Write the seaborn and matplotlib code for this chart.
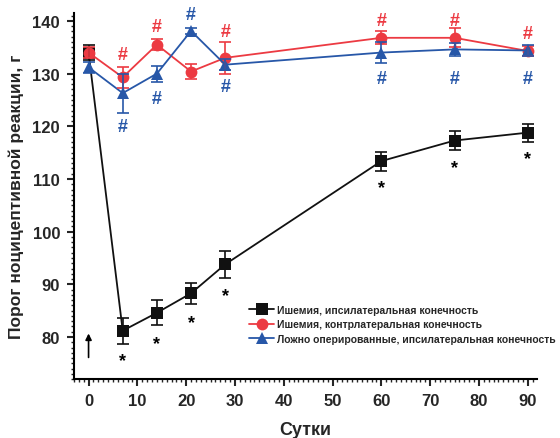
import numpy as np
import pandas as pd
import matplotlib
matplotlib.use("Agg")
import matplotlib.pyplot as plt
from matplotlib.ticker import MultipleLocator
import seaborn as sns

# data
days = [0, 7, 14, 21, 28, 60, 75, 90]
isch_ipsi = [134.0, 81.2, 84.6, 88.3, 93.8, 113.4, 117.3, 118.8]
isch_ipsi_err = [1.5, 2.5, 2.4, 2.0, 2.5, 1.8, 1.8, 1.7]
isch_contra = [134.0, 129.3, 135.5, 130.4, 133.0, 136.8, 136.8, 134.3]
isch_contra_err = [1.0, 2.0, 1.0, 1.5, 3.0, 1.2, 1.8, 1.0]
sham_ipsi = [131.2, 126.3, 130.0, 138.1, 131.7, 134.0, 134.6, 134.4]
sham_ipsi_err = [1.0, 3.7, 1.5, 0.5, 1.0, 2.0, 1.2, 1.0]

labels = ["Ишемия, ипсилатеральная конечность",
          "Ишемия, контрлатеральная конечность",
          "Ложно оперированные, ипсилатеральная конечность"]
colors = ["#111111", "#EC3A42", "#2757A8"]
markers = ["s", "o", "^"]

# significance marks
red_hash_days = [7, 14, 28, 60, 75, 90]
red_hash_y = [133.6, 138.9, 138.0, 140.1, 140.1, 137.6]
blue_hash_top_days = [21]
blue_hash_top_y = [141.2]
blue_hash_days = [7, 14, 28, 60, 75, 90]
blue_hash_y = [120.0, 125.3, 127.6, 129.0, 129.0, 129.0]
star_days = [7, 14, 21, 28, 60, 75, 90]
star_y = [75.5, 78.8, 82.8, 87.8, 108.3, 112.2, 113.8]

df = pd.DataFrame({
    "day": days * 3,
    "value": isch_ipsi + isch_contra + sham_ipsi,
    "group": [labels[0]] * 8 + [labels[1]] * 8 + [labels[2]] * 8,
})

sns.set_theme(style="ticks")
plt.rcParams["font.family"] = ["Liberation Sans", "DejaVu Sans"]
plt.rcParams["font.weight"] = "bold"

fig = plt.figure(figsize=(5.6, 4.39), dpi=100)
ax = fig.add_axes([0.132, 0.134, 0.827, 0.834])

sns.lineplot(data=df, x="day", y="value", hue="group", style="group",
             palette=dict(zip(labels, colors)), markers=dict(zip(labels, markers)),
             dashes=False, markersize=8.5, markeredgewidth=0, linewidth=1.3, ax=ax)

errs = [isch_ipsi_err, isch_contra_err, sham_ipsi_err]
vals = [isch_ipsi, isch_contra, sham_ipsi]
for v, e, c in zip(vals, errs, colors):
    ax.errorbar(days, v, yerr=e, fmt="none", ecolor=c, elinewidth=1.2,
                capsize=4.5, capthick=1.2)

for d, y in zip(red_hash_days, red_hash_y):
    ax.text(d, y, "#", color=colors[1], ha="center", va="center", fontsize=13, fontweight="bold")
for d, y in zip(blue_hash_top_days + blue_hash_days, blue_hash_top_y + blue_hash_y):
    ax.text(d, y, "#", color=colors[2], ha="center", va="center", fontsize=13, fontweight="bold")
for d, y in zip(star_days, star_y):
    ax.text(d, y, "*", color="black", ha="center", va="center", fontsize=13, fontweight="bold")

ax.annotate("", xy=(0, 81.2), xytext=(0, 75.6),
            arrowprops=dict(arrowstyle="-|>", color="black", lw=1.2, mutation_scale=9))

ax.set_xlim(-3.0, 91.9)
ax.set_ylim(72, 141.5)
ax.xaxis.set_major_locator(MultipleLocator(10))
ax.xaxis.set_minor_locator(MultipleLocator(1))
ax.yaxis.set_major_locator(MultipleLocator(10))
ax.yaxis.set_minor_locator(MultipleLocator(1))
ax.set_yticks(range(80, 141, 10))
ax.tick_params(axis="both", which="major", length=5, width=1.5, labelsize=12, pad=5)
ax.tick_params(axis="both", which="minor", length=2.5, width=1.0)
for lab in ax.get_xticklabels() + ax.get_yticklabels():
    lab.set_fontweight("bold")
sns.despine(ax=ax)
for s in ["left", "bottom"]:
    ax.spines[s].set_linewidth(1.5)
    ax.spines[s].set_color("black")

ax.set_xlabel("Сутки", fontsize=13, fontweight="bold", labelpad=9)
ax.set_ylabel("Порог ноцицептивной реакции, г", fontsize=12.5, fontweight="bold", labelpad=6)

leg = ax.legend(loc="lower right", bbox_to_anchor=(1.05, 0.085), frameon=False,
                fontsize=7.5, handlelength=2.4, handletextpad=0.3, labelspacing=0.45,
                borderaxespad=0)
for t in leg.get_texts():
    t.set_fontweight("bold")

fig.savefig("out.png", dpi=100)
